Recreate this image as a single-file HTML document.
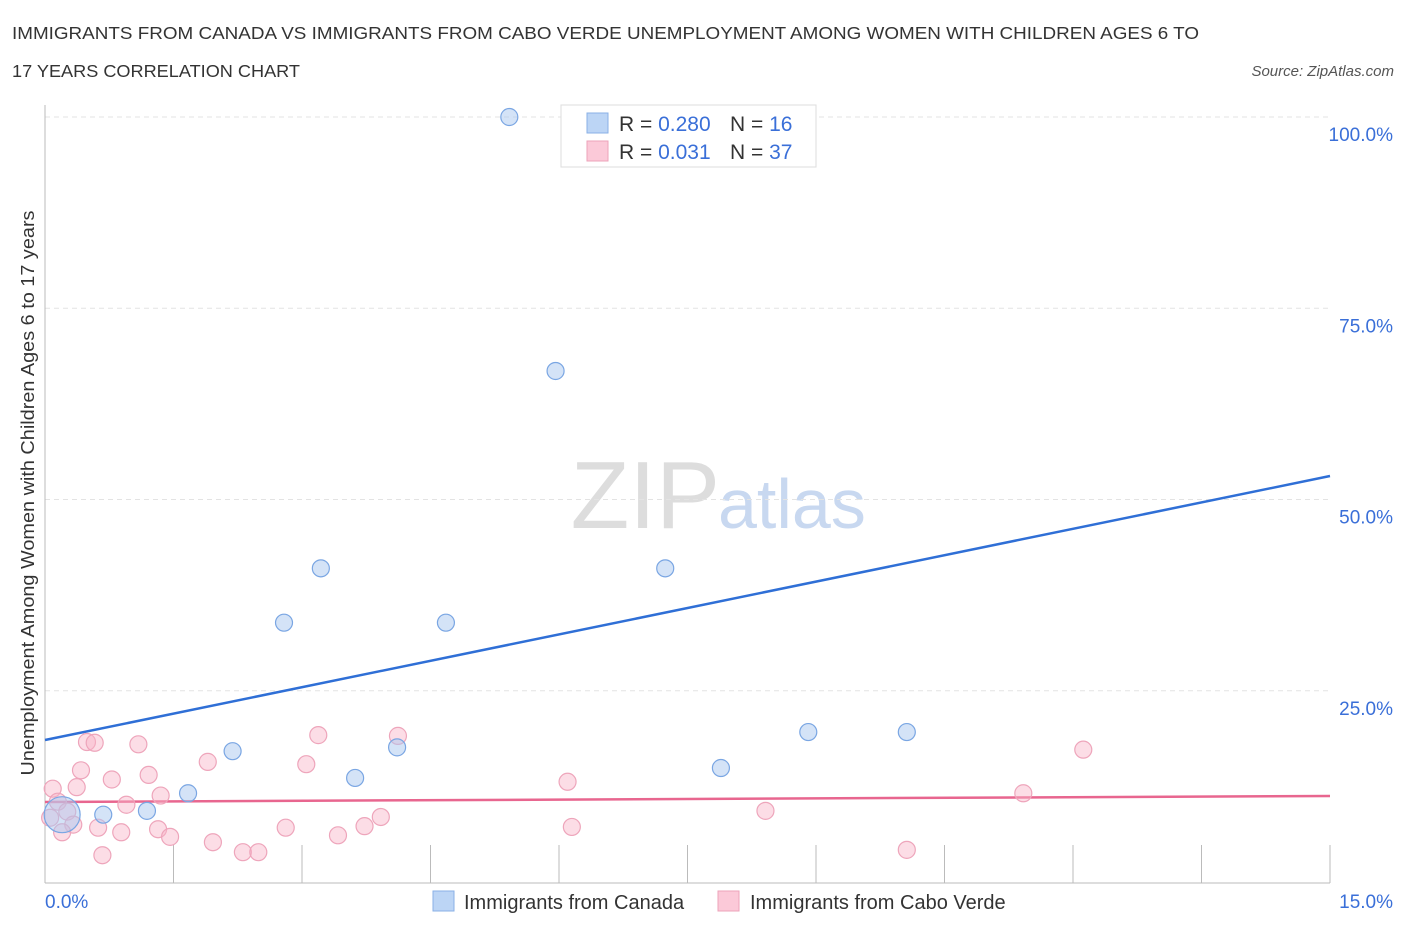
<!DOCTYPE html>
<html><head><meta charset="utf-8"><style>
body{margin:0;background:#fff;font-family:"Liberation Sans",sans-serif;}
svg text{font-family:"Liberation Sans",sans-serif;}
</style></head><body>
<svg id="chart" width="1406" height="930">
<text x="12" y="39" font-size="17.5" fill="#333" textLength="1187" lengthAdjust="spacingAndGlyphs">IMMIGRANTS FROM CANADA VS IMMIGRANTS FROM CABO VERDE UNEMPLOYMENT AMONG WOMEN WITH CHILDREN AGES 6 TO</text>
<text x="12" y="77" font-size="17.5" fill="#333" textLength="288" lengthAdjust="spacingAndGlyphs">17 YEARS CORRELATION CHART</text>
<text x="1394" y="76" font-size="15" fill="#555" font-style="italic" text-anchor="end">Source: ZipAtlas.com</text>
<text x="720" y="528" font-size="96" fill="#ddd" text-anchor="end" font-family="Liberation Serif">ZIP</text>
<text x="718" y="528" font-size="70" fill="#c8d8f0">atlas</text>
<text transform="translate(34,493) rotate(-90)" font-size="18" fill="#333" text-anchor="middle" textLength="565" lengthAdjust="spacingAndGlyphs">Unemployment Among Women with Children Ages 6 to 17 years</text>
<g id="grid"></g><g id="axes"></g><g id="lines"></g><g id="pts"></g>
<g>
<rect x="561" y="105" width="255" height="62" fill="#fff" stroke="#ddd"/>
<rect x="587" y="113" width="21" height="20" fill="#bcd5f5" stroke="#8ab0e6"/>
<rect x="587" y="141" width="21" height="20" fill="#fbc9d8" stroke="#eda3ba"/>
<text x="619" y="131" font-size="21" fill="#333">R = <tspan fill="#3a6fd8">0.280</tspan></text>
<text x="730" y="131" font-size="21" fill="#333">N = <tspan fill="#3a6fd8">16</tspan></text>
<text x="619" y="159" font-size="21" fill="#333">R = <tspan fill="#3a6fd8"> 0.031</tspan></text>
<text x="730" y="159" font-size="21" fill="#333">N = <tspan fill="#3a6fd8">37</tspan></text>
</g>
<g>
<rect x="433" y="891" width="21" height="20" fill="#bcd5f5" stroke="#8ab0e6"/>
<text x="464" y="909" font-size="20" fill="#333">Immigrants from Canada</text>
<rect x="718" y="891" width="21" height="20" fill="#fbc9d8" stroke="#eda3ba"/>
<text x="750" y="909" font-size="20" fill="#333">Immigrants from Cabo Verde</text>
</g>
</svg>
<script>
const xTicks=[0,15];
const yTicks=[25,50,75,100];
const blueX=[5.42,5.96,3.22,7.24,2.79,4.68,2.19,4.11,3.62,7.89,8.91,10.06,1.67,1.19,0.68,0.2];
const blueY=[100,66.8,41,41,33.9,33.9,17.1,17.6,13.6,14.9,19.6,19.6,11.6,9.3,8.8,8.8];
const pinkX=[0.49,0.58,1.09,3.19,4.12,0.42,0.78,1.21,1.90,3.05,0.37,0.09,0.15,1.35,0.95,0.26,0.06,0.33,0.20,0.62,0.89,1.32,1.46,0.67,1.96,2.31,2.49,2.81,3.42,3.73,3.92,6.10,6.15,8.41,10.06,11.42,12.12];
const pinkY=[18.3,18.2,18.0,19.2,19.1,14.6,13.4,14.0,15.7,15.4,12.4,12.2,10.5,11.3,10.1,9.2,8.4,7.5,6.5,7.1,6.5,6.9,5.9,3.5,5.2,3.9,3.9,7.1,6.1,7.3,8.5,13.1,7.2,9.3,4.2,11.6,17.3];
const blueTrend=[18.56,53.07];
const pinkTrend=[10.46,11.24];
const NS='http://www.w3.org/2000/svg';
const X=v=>45+v/15*1285, Y=v=>882-v*7.65;
function mk(p,t,a){const e=document.createElementNS(NS,t);for(const k in a)e.setAttribute(k,a[k]);document.getElementById(p).appendChild(e);return e;}
yTicks.forEach(t=>{
 const g=mk('grid','line',{x1:45,x2:1330,y1:Y(t),y2:Y(t),stroke:'#e3e3e3','stroke-dasharray':'5,4'});
 
 
 const l=mk('grid','text',{x:1393,y:Y(t)+24,'font-size':19,fill:'#3a6fd8','text-anchor':'end'});
 l.textContent=t.toFixed(1)+'%';
 
 
});
mk('axes','line',{x1:45,x2:45,y1:105,y2:883,stroke:'#bbb'});
mk('axes','line',{x1:45,x2:1330,y1:883,y2:883,stroke:'#bbb'});
for(let i=1;i<=10;i++){const x=45+i*128.5;mk('axes','line',{x1:x,x2:x,y1:845,y2:883,stroke:'#bbb'});}
xTicks.forEach((t,i)=>{
 const l=mk('axes','text',{x:i?1393:45,y:908,'font-size':19,fill:'#3a6fd8','text-anchor':i?'end':'start'});
 l.textContent=t.toFixed(1)+'%';
 
 
});
const bl=mk('lines','line',{x1:X(0),y1:Y(blueTrend[0]),x2:X(15),y2:Y(blueTrend[1]),stroke:'#2f6fd6','stroke-width':2.5});


const pl=mk('lines','line',{x1:X(0),y1:Y(pinkTrend[0]),x2:X(15),y2:Y(pinkTrend[1]),stroke:'#e8668f','stroke-width':2.5});


pinkX.forEach((v,i)=>{
 const c=mk('pts','circle',{cx:X(v),cy:Y(pinkY[i]),r:8.5,fill:'rgba(248,180,200,0.45)',stroke:'#eea5bb','stroke-width':1.2});
 
 
});
blueX.forEach((v,i)=>{
 const c=mk('pts','circle',{cx:X(v),cy:Y(blueY[i]),r:i==15?18:8.5,fill:'rgba(170,200,240,0.5)',stroke:'#7aa6e3','stroke-width':1.2});
 
 
});
</script>
</body></html>
